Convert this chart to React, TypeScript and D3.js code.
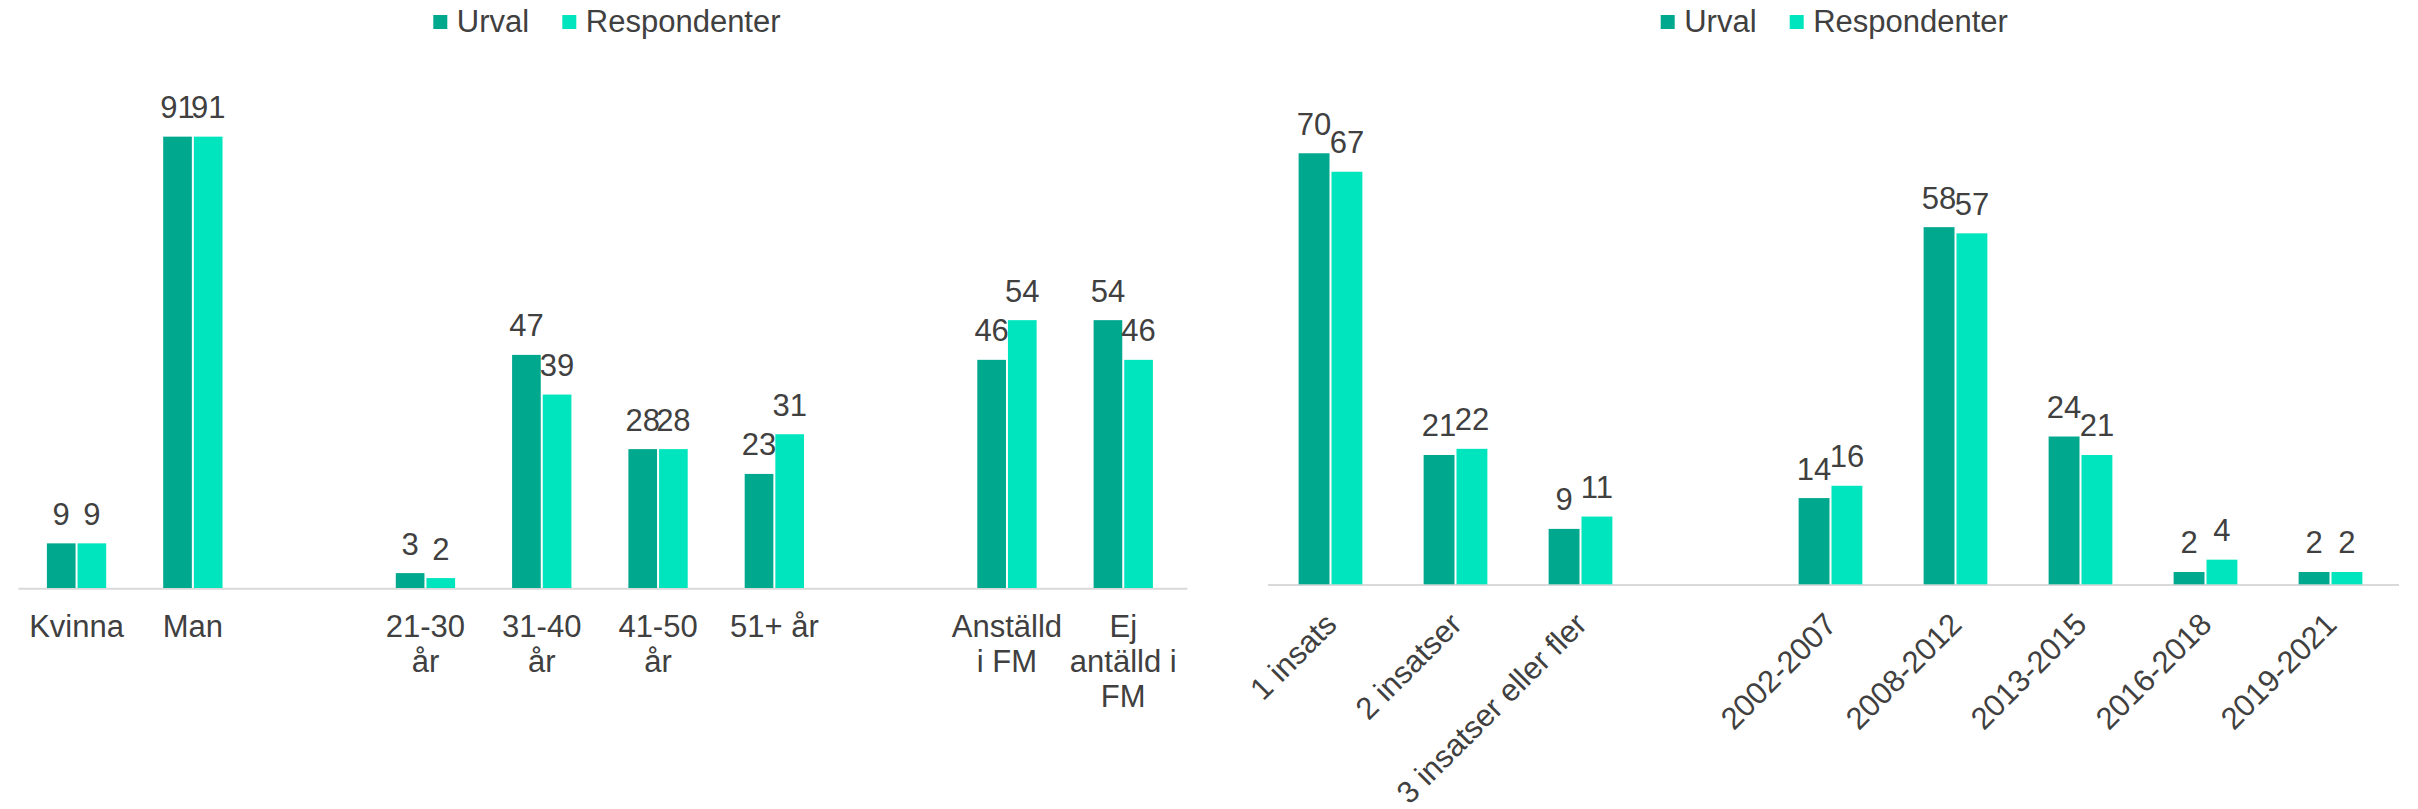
import { scaleBand, scaleLinear, select } from "d3";
import { FC, useEffect, useRef } from "react";

const seriesNames = ["Urval", "Respondenter"];
const seriesColors = ["#00a88e", "#00e5be"];

// left chart: kön, ålder, anställning (empty slots are gaps)
const leftCategories = [
  ["Kvinna"],
  ["Man"],
  [],
  ["21-30", "år"],
  ["31-40", "år"],
  ["41-50", "år"],
  ["51+ år"],
  [],
  ["Anställd", "i FM"],
  ["Ej", "antälld i", "FM"]
];
const leftUrval = [9, 91, null, 3, 47, 28, 23, null, 46, 54];
const leftRespondenter = [9, 91, null, 2, 39, 28, 31, null, 54, 46];

// right chart: antal insatser, period
const rightCategories = [
  "1 insats",
  "2 insatser",
  "3 insatser eller fler",
  "",
  "2002-2007",
  "2008-2012",
  "2013-2015",
  "2016-2018",
  "2019-2021"
];
const rightUrval = [70, 21, 9, null, 14, 58, 24, 2, 2];
const rightRespondenter = [67, 22, 11, null, 16, 57, 21, 4, 2];

const FONT = "'Liberation Sans', Arial, sans-serif";
const TEXT = "#404040";

type ChartCfg = {
  labels: string[][];
  series: (number | null)[][];
  x0: number;
  x1: number;
  baseline: number;
  top: number;
  yMax: number;
  legendX: number;
  rotated: boolean;
};

const charts: ChartCfg[] = [
  {
    labels: leftCategories,
    series: [leftUrval, leftRespondenter],
    x0: 18.4,
    x1: 1181.4,
    baseline: 588,
    top: 92,
    yMax: 100,
    legendX: 433.3,
    rotated: false
  },
  {
    labels: rightCategories.map((c) => [c]),
    series: [rightUrval, rightRespondenter],
    x0: 1268,
    x1: 2393,
    baseline: 584.3,
    top: 91.7,
    yMax: 80,
    legendX: 1660.7,
    rotated: true
  }
];

const App: FC = () => {
  const svgRef = useRef<SVGSVGElement>(null);

  useEffect(() => {
    const svg = select(svgRef.current);
    svg.selectAll("*").remove();

    charts.forEach((cfg, ci) => {
      const g = svg.append("g").attr("class", `chart-${ci}`);
      const idx = cfg.labels.map((_, i) => String(i));

      const xScale = scaleBand().domain(idx).range([cfg.x0, cfg.x1]).padding(0);
      const yScale = scaleLinear().domain([0, cfg.yMax]).range([cfg.baseline, cfg.top]);

      const groupW = xScale.step() * 0.51;
      const inner = scaleBand()
        .domain(seriesNames)
        .range([-groupW / 2, groupW / 2])
        .paddingInner(4 / (groupW + 2));

      // axis line
      g.append("line")
        .attr("x1", cfg.x0)
        .attr("x2", cfg.x1 + 6)
        .attr("y1", cfg.baseline + 0.8)
        .attr("y2", cfg.baseline + 0.8)
        .attr("stroke", "#d9d9d9")
        .attr("stroke-width", 2);

      // bars + value labels
      cfg.series.forEach((values, si) => {
        const name = seriesNames[si];
        const pts = values
          .map((v, i) => ({ v, i }))
          .filter((d) => d.v !== null) as { v: number; i: number }[];

        g.selectAll(`rect.s${si}`)
          .data(pts)
          .join("rect")
          .attr("class", `s${si}`)
          .attr("x", (d) => xScale(String(d.i))! + xScale.bandwidth() / 2 + inner(name)!)
          .attr("width", inner.bandwidth())
          .attr("y", (d) => yScale(d.v))
          .attr("height", (d) => cfg.baseline - yScale(d.v))
          .attr("fill", seriesColors[si]);

        g.selectAll(`text.v${si}`)
          .data(pts)
          .join("text")
          .attr("class", `v${si}`)
          .attr("x", (d) => xScale(String(d.i))! + xScale.bandwidth() / 2 + inner(name)! + inner.bandwidth() / 2)
          .attr("y", (d) => yScale(d.v) - 18.5)
          .attr("text-anchor", "middle")
          .attr("font-family", FONT)
          .attr("font-size", 31)
          .attr("fill", TEXT)
          .text((d) => d.v);
      });

      // category labels
      cfg.labels.forEach((lines, i) => {
        const cx = xScale(String(i))! + xScale.bandwidth() / 2;
        if (cfg.rotated) {
          g.append("text")
            .attr("transform", `translate(${cx + 8},${cfg.baseline + 42}) rotate(-45)`)
            .attr("text-anchor", "end")
            .attr("font-family", FONT)
            .attr("font-size", 31)
            .attr("fill", TEXT)
            .text(lines[0]);
        } else {
          lines.forEach((line, li) => {
            g.append("text")
              .attr("x", cx)
              .attr("y", cfg.baseline + 48.7 + li * 35)
              .attr("text-anchor", "middle")
              .attr("font-family", FONT)
              .attr("font-size", 31)
              .attr("fill", TEXT)
              .text(line);
          });
        }
      });

      // legend
      const offsets = [0, 129];
      seriesNames.forEach((name, si) => {
        const lx = cfg.legendX + offsets[si];
        g.append("rect")
          .attr("x", lx)
          .attr("y", 15)
          .attr("width", 14)
          .attr("height", 14)
          .attr("fill", seriesColors[si]);
        g.append("text")
          .attr("x", lx + 23.5)
          .attr("y", 32.3)
          .attr("font-family", FONT)
          .attr("font-size", 31)
          .attr("fill", TEXT)
          .text(name);
      });
    });
  }, []);

  return (
    <svg
      ref={svgRef}
      width={2418}
      height={809}
      style={{ position: "absolute", left: 0, top: 0, background: "#fff" }}
    />
  );
};

export default App;
